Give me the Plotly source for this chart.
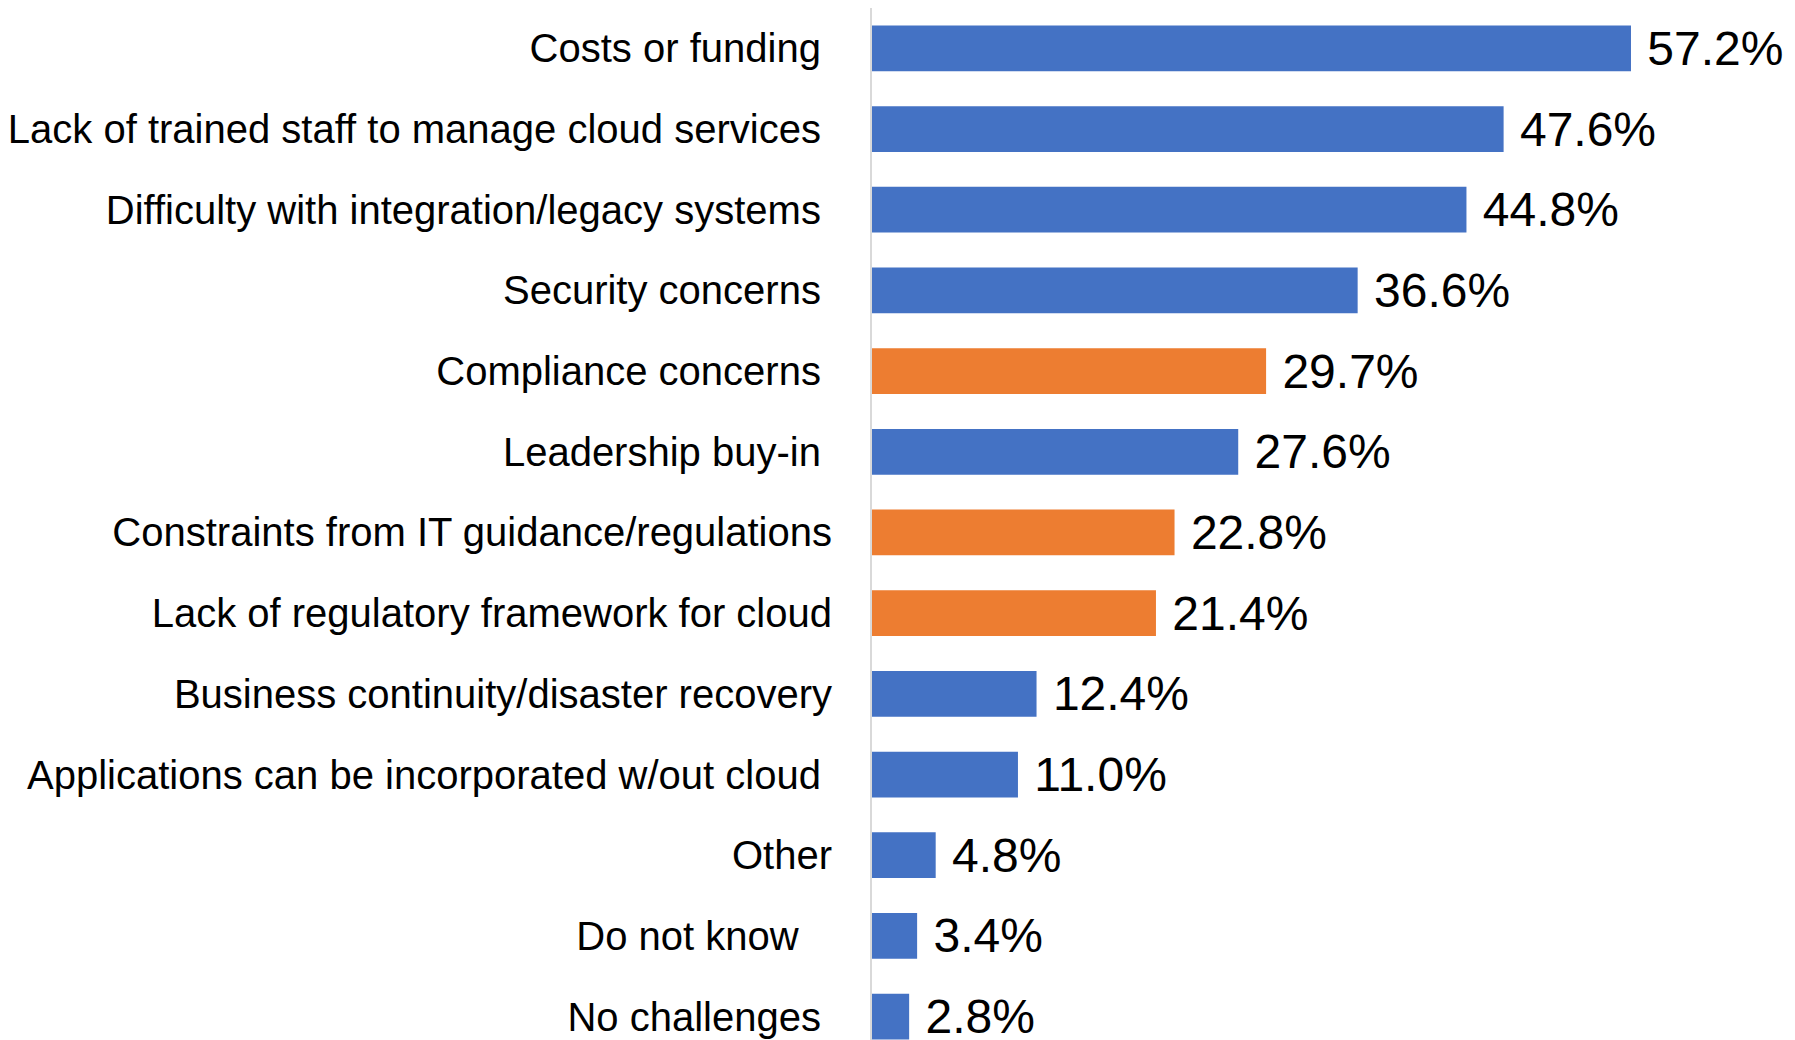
import plotly.graph_objects as go

categories = [
    "Costs or funding",
    "Lack of trained staff to manage cloud services",
    "Difficulty with integration/legacy systems",
    "Security concerns",
    "Compliance concerns",
    "Leadership buy-in",
    "Constraints from IT guidance/regulations",
    "Lack of regulatory framework for cloud",
    "Business continuity/disaster recovery",
    "Applications can be incorporated w/out cloud",
    "Other",
    "Do not know",
    "No challenges",
]
values = [57.2, 47.6, 44.8, 36.6, 29.7, 27.6, 22.8, 21.4, 12.4, 11.0, 4.8, 3.4, 2.8]
highlight = [False, False, False, False, True, False, True, True, False, False, False, False, False]
trailing_spaces = [1, 1, 1, 1, 1, 1, 0, 0, 0, 1, 0, 3, 1]

BLUE = "#4472C4"
ORANGE = "#ED7D31"
FONT = "Liberation Sans, Arial, sans-serif"

colors = [ORANGE if h else BLUE for h in highlight]
tick_text = [c + "\u00a0" * n for c, n in zip(categories, trailing_spaces)]
labels = ["\u00a0%.1f%%" % v for v in values]

fig = go.Figure(
    go.Bar(
        x=values,
        y=categories,
        orientation="h",
        marker=dict(color=colors, line=dict(width=0)),
        text=labels,
        textposition="outside",
        textfont=dict(family=FONT, size=48, color="#000000"),
        constraintext="none",
        cliponaxis=False,
        hoverinfo="skip",
    )
)

fig.update_layout(
    width=1787,
    height=1032,
    margin=dict(l=864, r=0, t=0, b=0),
    paper_bgcolor="white",
    plot_bgcolor="white",
    bargap=0.433,
    showlegend=False,
)
fig.update_xaxes(
    range=[0, 69.56],
    showgrid=False,
    zeroline=False,
    showticklabels=False,
    showline=False,
    fixedrange=True,
)
fig.update_yaxes(
    type="category",
    categoryorder="array",
    categoryarray=categories,
    tickmode="array",
    tickvals=categories,
    ticktext=tick_text,
    range=[12.29, -0.5],
    showgrid=False,
    zeroline=False,
    showline=True,
    linecolor="#D9D9D9",
    linewidth=2,
    ticks="",
    ticklabelstandoff=30,
    tickfont=dict(family=FONT, size=40, color="#000000"),
    fixedrange=True,
)

fig.write_html("out.html")
